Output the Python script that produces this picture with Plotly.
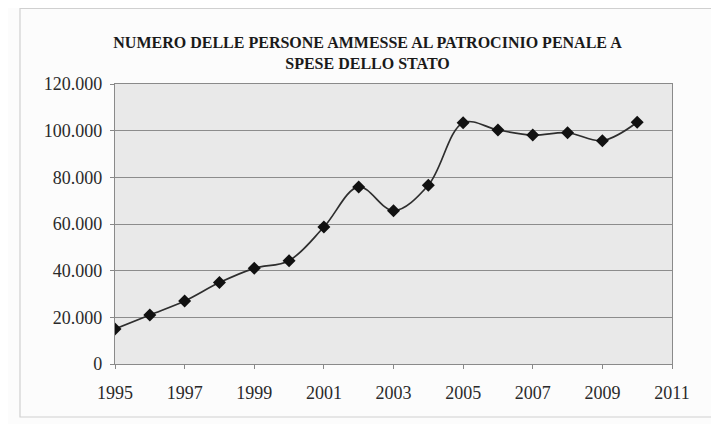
import plotly.graph_objects as go

years = [1995, 1996, 1997, 1998, 1999, 2000, 2001, 2002, 2003, 2004, 2005, 2006, 2007, 2008, 2009, 2010]
persone = [15000, 21000, 27000, 34900, 41000, 44300, 58700, 75900, 65700, 76600,
           103400, 100300, 98100, 99100, 95700, 103600]
title_text = "NUMERO DELLE PERSONE AMMESSE AL PATROCINIO PENALE A<br>SPESE DELLO STATO"
x_ticks = [1995, 1997, 1999, 2001, 2003, 2005, 2007, 2009, 2011]
y_ticks = [0, 20000, 40000, 60000, 80000, 100000, 120000]

# page body has an 8px margin; figure size/positions compensate for it
OFF = 8
W, H = 719 - OFF, 424 - OFF
L, R, T, B = 115 - OFF, 47, 84 - OFF, 60

SERIF = "Liberation Serif, Times New Roman, serif"

fig = go.Figure()
fig.add_trace(go.Scatter(
    x=years, y=persone, mode="lines+markers",
    line=dict(color="#2e2e2e", width=1.7, shape="spline", smoothing=1.0),
    marker=dict(symbol="diamond", size=10, color="#111111"),
    showlegend=False,
))

pw = W - L - R
ph = H - T - B
def px_x(p):
    return (p - OFF - L) / pw
def px_y(p):
    return (H - B - (p - OFF)) / ph

fig.add_shape(type="rect", xref="paper", yref="paper",
              x0=px_x(20), x1=px_x(713), y0=px_y(417), y1=px_y(8.5),
              line=dict(color="#d0d0d0", width=1.2), layer="below")

fig.update_layout(
    width=W, height=H,
    margin=dict(l=L, r=R, t=T, b=B),
    paper_bgcolor="#fcfcfc",
    plot_bgcolor="#e9e9e9",
    separators=",.",
    font=dict(family=SERIF, color="#2a2a2a", size=17),
    title=dict(text=title_text, x=(367.5 - OFF) / W, xanchor="center",
               y=1 - (48 - OFF) / H, yanchor="middle", yref="container", xref="container",
               font=dict(family=SERIF, size=16, color="#1a1a1a", weight="bold")),
    xaxis=dict(range=[1995, 2011], tickvals=x_ticks, ticks="outside", ticklen=4,
               tickcolor="#888888", showgrid=False, showline=True, linecolor="#8a8a8a",
               linewidth=1.2, mirror=True, zeroline=False, ticklabelstandoff=8,
               tickfont=dict(family=SERIF, size=18, color="#2a2a2a")),
    yaxis=dict(range=[0, 120000], tickvals=y_ticks, tickformat=",d", ticks="outside",
               ticklen=4, tickcolor="#888888", showgrid=True, gridcolor="#8c8c8c",
               gridwidth=1.3, showline=True, linecolor="#8a8a8a", linewidth=1.2,
               mirror=True, zeroline=False, ticklabelstandoff=4,
               tickfont=dict(family=SERIF, size=18, color="#2a2a2a")),
)

fig.write_html("out.html")
